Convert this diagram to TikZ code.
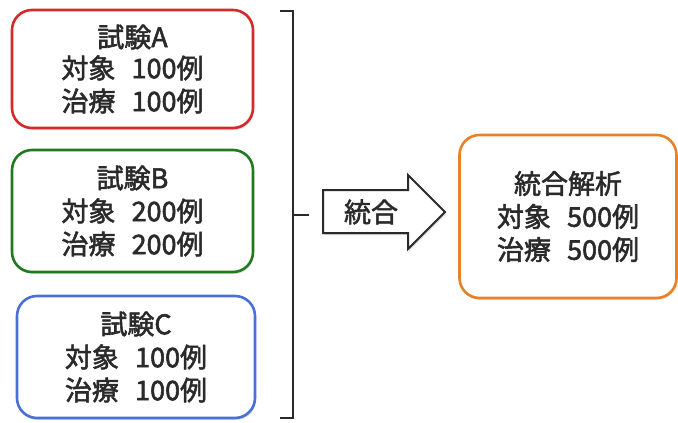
\documentclass[tikz,border=0pt]{standalone}
\usepackage{fontspec}
\setmainfont{Noto Sans CJK JP}[FakeBold=2]
\usetikzlibrary{shadows}
\definecolor{txt}{HTML}{2A2A2A}
\definecolor{cRed}{HTML}{D42A2A}
\definecolor{cGreen}{HTML}{217A1E}
\definecolor{cBlue}{HTML}{4A70D8}
\definecolor{cOrange}{HTML}{E8822A}
\tikzset{
  trialbox/.style={draw=#1, line width=2.6pt, rounded corners=20pt, fill=white,
    align=center, text=txt, font=\fontsize{27}{33}\selectfont, inner sep=0pt,
    drop shadow={opacity=0.25, shadow xshift=1pt, shadow yshift=-2pt}},
  bracketline/.style={draw=txt, line width=2.2pt},
}
\begin{document}
\begin{tikzpicture}[x=1pt,y=-1pt]
\useasboundingbox (0,0) rectangle (678,423);
\node[trialbox=cRed, minimum width=241pt, minimum height=118pt] (A) at (132.5,69)
  {\raisebox{-2pt}{試験A}\\対象\hspace{0.6em}100例\\治療\hspace{0.6em}100例};
\node[trialbox=cGreen, minimum width=241pt, minimum height=122pt] (B) at (132.5,211)
  {試験B\\対象\hspace{0.6em}200例\\治療\hspace{0.6em}200例};
\node[trialbox=cBlue, minimum width=238pt, minimum height=122pt] (C) at (136,357)
  {試験C\\対象\hspace{0.6em}100例\\治療\hspace{0.6em}100例};
\node[trialbox=cOrange, minimum width=217pt, minimum height=163pt] (M) at (568,216.5)
  {統合解析\\対象\hspace{0.6em}500例\\治療\hspace{0.6em}500例};
% bracket
\coordinate (bt) at (280,11);
\coordinate (bb) at (280,418);
\coordinate (bm) at (293,215);
\coordinate (bmr) at (309,215);
\draw[bracketline] (bt) -| (293,418) -- (bb);
\draw[bracketline] (bm) -- (bmr);
% block arrow
\draw[draw=txt, line width=2pt, fill=white, line join=miter,
  drop shadow={opacity=0.3, shadow xshift=1pt, shadow yshift=-2pt}]
  (323,190) -- (408,190) -- (408,175) -- (445,212) -- (408,249) -- (408,233) -- (323,233) -- cycle;
\node[text=txt, font=\fontsize{27}{30}\selectfont] (T) at (371,212) {統合};
\end{tikzpicture}
\end{document}
